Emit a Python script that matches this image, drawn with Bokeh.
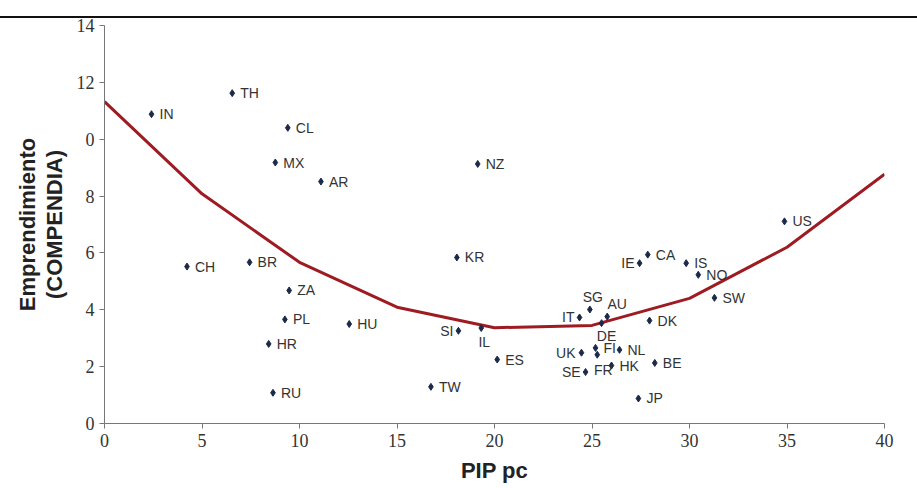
from bokeh.plotting import figure
from bokeh.models import FixedTicker, ColumnDataSource, Div
from bokeh.layouts import column
from bokeh.core.properties import value
from bokeh.embed import file_html
from bokeh.resources import INLINE

# ---- data ----
countries = ["IN", "TH", "CL", "MX", "AR", "NZ", "CH", "BR", "ZA", "PL", "HU", "HR", "RU",
             "KR", "TW", "SI", "IL", "ES", "US", "IE", "CA", "IS", "NO", "SW", "SG", "AU",
             "IT", "DE", "DK", "UK", "FI", "FR", "NL", "HK", "SE", "BE", "JP"]
pip_pc = [2.41, 6.55, 9.40, 8.76, 11.10, 19.14, 4.23, 7.44, 9.47, 9.25, 12.55, 8.42, 8.64,
          18.07, 16.74, 18.15, 19.32, 20.14, 34.87, 27.44, 27.86, 29.83, 30.45, 31.28, 24.89, 25.78,
          24.36, 25.49, 27.95, 24.46, 25.18, 25.27, 26.41, 26.00, 24.67, 28.22, 27.38]
emprend = [10.88, 11.62, 10.40, 9.18, 8.51, 9.13, 5.52, 5.67, 4.68, 3.66, 3.50, 2.80, 1.08,
           5.84, 1.29, 3.26, 3.36, 2.25, 7.11, 5.64, 5.94, 5.64, 5.23, 4.42, 4.01, 3.76,
           3.73, 3.53, 3.62, 2.49, 2.66, 2.42, 2.59, 2.04, 1.81, 2.13, 0.88]
curve_x = [0, 5, 10, 15, 20, 25, 30, 35, 40]
curve_y = [11.32, 8.08, 5.67, 4.09, 3.37, 3.45, 4.40, 6.20, 8.77]
x_ticks = [0, 5, 10, 15, 20, 25, 30, 35, 40]
y_ticks = [0, 2, 4, 6, 8, 10, 12, 14]
y_tick_text = {10: "0"}

# ---- label placement (style only) ----
placement = {"IE": "left", "SE": "left", "IT": "left", "SI": "left", "UK": "left",
             "DE": "below", "IL": "below", "FR": "below", "SG": "above", "AU": "above"}
offsets = {"right": (8, 0, "left"), "left": (-5, 0, "right"),
           "below": (5, 13, "center"), "above": (5, -13, "center")}
fine = {"FR": (6, 15, "center"), "AU": (10, -13, "center"), "SG": (3, -13, "center"),
        "IL": (3, 14, "center"), "UK": (-6, 0, "right")}
dx, dy, al = [], [], []
for c in countries:
    o = fine.get(c, offsets[placement.get(c, "right")])
    dx.append(o[0]); dy.append(o[1]); al.append(o[2])

src = ColumnDataSource(dict(x=pip_pc, y=emprend, name=countries, dx=dx, dy=dy, al=al))

p = figure(width=917, height=480, x_range=(0, 40), y_range=(0, 14),
           output_backend="svg", toolbar_location=None, margin=(-10, 0, 0, 0),
           min_border_left=104, min_border_right=33, min_border_top=17, min_border_bottom=65)
p.outline_line_color = None
p.grid.visible = False
p.background_fill_color = "white"
p.border_fill_color = None

p.line(curve_x, curve_y, line_color="#9e1b22", line_width=3)
p.scatter("x", "y", source=src, marker="diamond", size=7, fill_color="#1c2a4a",
          line_color="#1c2a4a")
p.text("x", "y", text="name", source=src, x_offset="dx", y_offset="dy", text_align="al",
       text_baseline="middle", text_font=value("Liberation Sans"), text_font_size="14px",
       text_color="#333333")

for ax in (p.xaxis[0], p.yaxis[0]):
    ax.axis_line_color = "#777777"
    ax.major_tick_line_color = "#777777"
    ax.major_tick_in = 0
    ax.major_tick_out = 5
    ax.minor_tick_line_color = None
    ax.major_label_text_font = "Liberation Sans Narrow"
    ax.major_label_text_font_size = "18px"
    ax.major_label_text_color = "#333333"
    ax.axis_label_text_font = "Liberation Sans"
    ax.axis_label_text_font_style = "bold"
    ax.axis_label_text_font_size = "22px"
    ax.axis_label_text_color = "#222222"

p.xaxis.ticker = FixedTicker(ticks=x_ticks)
p.yaxis.ticker = FixedTicker(ticks=y_ticks)
p.yaxis.major_label_overrides = y_tick_text
p.xaxis.axis_label = "PIP pc"
p.xaxis.axis_label_standoff = 8
p.yaxis.axis_label = "Emprendimiento\n(COMPENDIA)"
p.yaxis.axis_label_standoff = 7
p.yaxis.axis_label_text_line_height = 1.05

top = Div(text="", width=917, height=18, margin=0,
          styles={"border-bottom": "2px solid #111111", "box-sizing": "border-box"})

layout = column(top, p, spacing=0, margin=0)
open("out.html", "w").write(file_html(layout, INLINE))
